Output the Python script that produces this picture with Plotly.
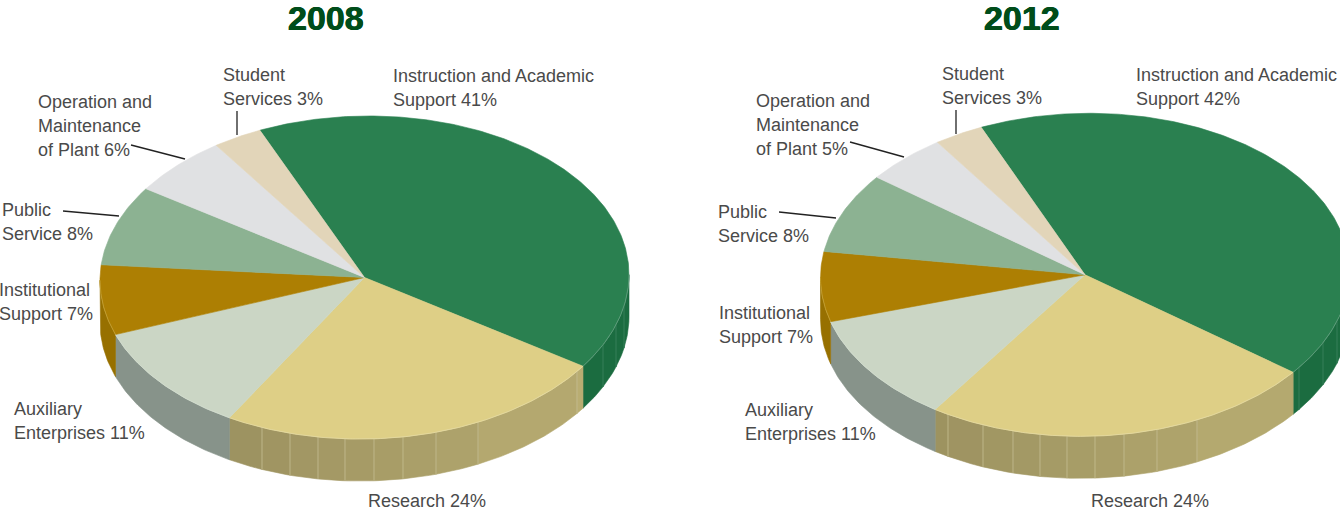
import math
import plotly.graph_objects as go

# ---- data ----
YEARS = ["2008", "2012"]
CATEGORIES = ["Instruction and Academic Support", "Research", "Auxiliary Enterprises",
              "Institutional Support", "Public Service", "Operation and Maintenance of Plant",
              "Student Services"]
VALUES_2008 = [41, 24, 11, 7, 8, 6, 3]
VALUES_2012 = [42, 24, 11, 7, 8, 5, 3]
LABEL_LINES_2008 = [["Instruction and Academic", "Support 41%"], ["Research 24%"],
                    ["Auxiliary", "Enterprises 11%"], ["Institutional", "Support 7%"],
                    ["Public", "Service 8%"], ["Operation and", "Maintenance", "of Plant 6%"],
                    ["Student", "Services 3%"]]
LABEL_LINES_2012 = [["Instruction and Academic", "Support 42%"], ["Research 24%"],
                    ["Auxiliary", "Enterprises 11%"], ["Institutional", "Support 7%"],
                    ["Public", "Service 8%"], ["Operation and", "Maintenance", "of Plant 5%"],
                    ["Student", "Services 3%"]]

# ---- style / layout ----
W, H = 1340, 513
TOP_COLORS = ["#2a8050", "#decf86", "#cbd6c5", "#ad7f03", "#8cb292", "#e0e1e3", "#e2d5b9"]
WALL_LEFT = ["#1b6c40", "#9c9260", "#87938a", "#977000", "#7a9a80", "#c0c0c0", "#c0b8a0"]
WALL_RIGHT = ["#1b6c40", "#b9ad72", "#87938a", "#977000", "#7a9a80", "#c0c0c0", "#c0b8a0"]
SEAM_COLOR = ["#3f8560", "#c6bf95", "#9aa59d", "#977000", "#7a9a80", "#c0c0c0", "#c0b8a0"]
RIM_COLOR = ["#6fa588", "#e6dca6", "#d6dfd2", "#c9a83f", "#a5c4aa", "#e0e1e3", "#e2d5b9"]
RX, RY, DEPTH, SKEW = 264.5, 161.5, 42, 0.0105
LAYOUTS = {
    "2008": dict(cx=364.5, cy=277.5, start=-23.3, title_x=325.5, title_y=17.5,
                 seams=[262, 290, 318, 345, 374, 403, 436, 478, 577, 603, 616, 624],
                 label_xy=[(390.5, 76), (365.5, 501), (11.5, 409), (-3.0, 290), (-0.5, 210), (35.5, 102), (220.5, 75)],
                 leaders=[((131, 145), (185, 159)), ((237, 111), (237, 135)), ((63, 211), (119, 216))]),
    "2012": dict(cx=1085, cy=274.8, start=-23.1, title_x=1021.5, title_y=17.5,
                 seams=[948, 983, 1013, 1040, 1067, 1095, 1124, 1157, 1197, 1299, 1323, 1337],
                 label_xy=[(1133.5, 75), (1088.5, 501), (742.5, 410), (716.5, 313), (715.5, 212), (754.0, 101), (939.5, 74)],
                 leaders=[((850, 142), (904, 157)), ((956, 110), (956, 134)), ((779, 212), (836, 218))]),
}
FONT = "Liberation Sans"
TEXT_COLOR = "#4a4a4a"
TITLE_COLOR = "#004d1a"
LINE_PITCH = 24


def pt(cfg, deg, dy=0.0):
    a = math.radians(deg)
    dx = RX * math.sin(a)
    return cfg["cx"] + dx, cfg["cy"] - RY * math.cos(a) - SKEW * dx + dy


def arc(cfg, a0, a1, dy=0.0):
    n = max(2, int(abs(a1 - a0) * 1.5) + 1)
    return [pt(cfg, a0 + (a1 - a0) * i / (n - 1), dy) for i in range(n)]


def mix(c0, c1, t):
    p = [int(c0[i:i + 2], 16) for i in (1, 3, 5)]
    q = [int(c1[i:i + 2], 16) for i in (1, 3, 5)]
    return "#%02x%02x%02x" % tuple(round(a + (b - a) * t) for a, b in zip(p, q))


fig = go.Figure()


def poly(points, fill, name):
    xs, ys = zip(*points)
    fig.add_trace(go.Scatter(x=list(xs) + [xs[0]], y=list(ys) + [ys[0]], mode="lines", fill="toself",
                             fillcolor=fill, line=dict(width=0.6, color=fill), name=name, hoverinfo="skip"))


def stroke(points, color, width):
    xs, ys = zip(*points)
    fig.add_trace(go.Scatter(x=list(xs), y=list(ys), mode="lines", line=dict(width=width, color=color),
                             hoverinfo="skip"))


def draw_pie(year, values, label_lines):
    cfg = LAYOUTS[year]
    total = sum(values)
    edges = [cfg["start"]]
    for v in values:
        edges.append(edges[-1] + v / total * 360)
    seam_angles = [180 - math.degrees(math.asin((x - cfg["cx"]) / RX)) for x in cfg["seams"]]
    # side walls (only the near half of the disc is visible)
    for i, cat in enumerate(CATEGORIES):
        a0, a1 = max(edges[i], 90), min(edges[i + 1], 270)
        if a1 <= a0:
            continue
        inner = sorted(s for s in seam_angles if a0 < s < a1)
        cuts = [a0] + inner + [a1]
        for j in range(len(cuts) - 1):
            t = 1 - ((cuts[j] + cuts[j + 1]) / 2 - a0) / (a1 - a0)
            top = arc(cfg, cuts[j], cuts[j + 1])
            poly(top + arc(cfg, cuts[j + 1], cuts[j], DEPTH), mix(WALL_LEFT[i], WALL_RIGHT[i], t), cat)
        for s in inner:
            stroke([pt(cfg, s), pt(cfg, s, DEPTH)], SEAM_COLOR[i], 0.8)
    # top face
    for i, cat in enumerate(CATEGORIES):
        poly([(cfg["cx"], cfg["cy"])] + arc(cfg, edges[i], edges[i + 1]), TOP_COLORS[i], cat)
    # thin light rim along the near edge
    for i in range(len(CATEGORIES)):
        a0, a1 = max(edges[i], 90), min(edges[i + 1], 270)
        if a1 > a0:
            stroke(arc(cfg, a0, a1), RIM_COLOR[i], 0.7)
    # leaders and labels
    for p, q in cfg["leaders"]:
        stroke([p, q], "#222222", 1.3)
    for lines, (x, y) in zip(label_lines, cfg["label_xy"]):
        for k, line in enumerate(lines):
            fig.add_annotation(x=max(x, 0), xshift=min(x, 0), y=y + k * LINE_PITCH, text=line, showarrow=False,
                               xanchor="left", yanchor="middle", xref="x", yref="y", align="left",
                               font=dict(family=FONT, size=18, color=TEXT_COLOR))
    fig.add_annotation(x=cfg["title_x"], y=cfg["title_y"], text="<b>%s</b>" % year, showarrow=False,
                       xanchor="center", yanchor="middle", xref="x", yref="y", height=34, borderpad=0,
                       font=dict(family=FONT, size=34, color=TITLE_COLOR,
                                 shadow="0.4px 0 %s, -0.4px 0 %s" % (TITLE_COLOR, TITLE_COLOR)))


draw_pie("2008", VALUES_2008, LABEL_LINES_2008)
draw_pie("2012", VALUES_2012, LABEL_LINES_2012)

fig.update_layout(width=W, height=H, margin=dict(l=0, r=0, t=0, b=0), showlegend=False,
                  paper_bgcolor="white", plot_bgcolor="white", hovermode=False,
                  xaxis=dict(range=[0, W], visible=False, fixedrange=True),
                  yaxis=dict(range=[H, 0], visible=False, fixedrange=True))
fig.write_html("out.html", config={"displayModeBar": False},
               post_script="document.body.style.margin='0';document.body.style.overflow='hidden';")
